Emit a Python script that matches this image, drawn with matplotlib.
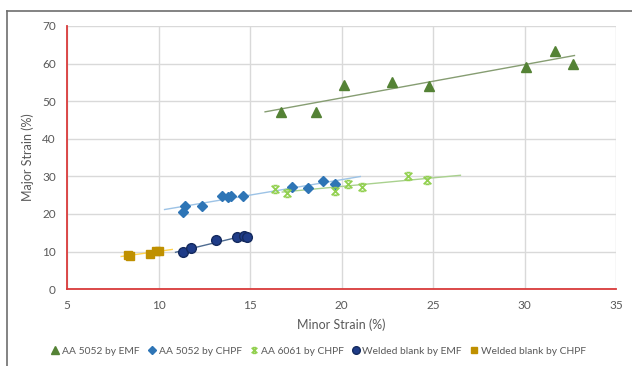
import numpy as np
import matplotlib
matplotlib.use("Agg")
import matplotlib.pyplot as plt
from matplotlib.path import Path
from matplotlib.lines import Line2D

plt.rcParams['font.family'] = ['Lato', 'DejaVu Sans']

# minor / major strain readings (%)
emf_5052_x = [16.67, 18.58, 20.13, 22.77, 24.77, 30.06, 31.68, 32.62]
emf_5052_y = [47.0, 47.0, 54.2, 55.2, 54.1, 59.2, 63.3, 60.0]

chpf_5052_x = [11.33, 11.45, 12.35, 13.44, 13.82, 13.98, 14.64, 17.27, 18.18, 18.98, 19.62]
chpf_5052_y = [20.6, 22.2, 22.2, 24.9, 24.6, 24.9, 24.9, 27.2, 26.9, 28.7, 28.1]

chpf_6061_x = [16.36, 17.04, 19.65, 20.35, 21.11, 23.64, 24.69]
chpf_6061_y = [26.7, 25.5, 26.0, 27.9, 27.1, 30.2, 29.1]

weld_emf_x = [11.36, 11.80, 13.13, 14.27, 14.67, 14.84]
weld_emf_y = [9.8, 11.0, 13.1, 13.9, 14.2, 13.9]

weld_chpf_x = [8.31, 8.45, 9.53, 9.84, 10.03]
weld_chpf_y = [9.2, 8.8, 9.4, 10.1, 10.2]

labels = ["AA 5052 by EMF", "AA 5052 by CHPF", "AA 6061 by CHPF",
          "Welded blank by EMF", "Welded blank by CHPF"]

# excel-like trendline forecast (backward, forward)
forecast = [(0.85, 0.1), (1.0, 1.4), (-0.4, 1.8), (0.43, 0.2), (0.35, 0.72)]

# asterisk-ish marker like excel's star
star = Path([(-1, -1), (1, 1), (-1, 1), (1, -1),
             (-0.55, 1), (0.55, 1), (-0.55, -1), (0.55, -1)],
            [Path.MOVETO, Path.LINETO] * 4)

styles = [
    dict(marker='^', color='#548235', mec='#548235', ms=7, trend='#869d72'),
    dict(marker='D', color='#2e75b6', mec='#2e75b6', ms=5.3, trend='#9dc3e6'),
    dict(marker=star, color='#92d050', mec='#92d050', ms=5.5, trend='#a9d18e'),
    dict(marker='o', color='#1f3c88', mec='#142a5e', ms=7, trend='#4f6c91'),
    dict(marker='s', color='#bf9000', mec='#bf9000', ms=6, trend='#ffd34e'),
]

series = [(emf_5052_x, emf_5052_y), (chpf_5052_x, chpf_5052_y),
          (chpf_6061_x, chpf_6061_y), (weld_emf_x, weld_emf_y),
          (weld_chpf_x, weld_chpf_y)]

fig = plt.figure(figsize=(6.32, 3.66), dpi=100)
ax = fig.add_axes([0.106, 0.21, 0.869, 0.719])

txt = '#595959'
handles = []
for (xs, ys), st, (back, fwd), lab in zip(series, styles, forecast, labels):
    xs = np.array(xs)
    ys = np.array(ys)
    k, b = np.polyfit(xs, ys, 1)
    tx = np.array([xs.min() - back, xs.max() + fwd])
    ax.plot(tx, k * tx + b, color=st['trend'], lw=1.0, zorder=2)
    mew = 1.3 if st['marker'] is star else 1.0
    ax.plot(xs, ys, ls='none', marker=st['marker'], ms=st['ms'],
            mfc=st['color'], mec=st['mec'], mew=mew, zorder=3)
    handles.append(Line2D([], [], ls='none', marker=st['marker'],
                          ms=st['ms'] - 1.5, mfc=st['color'], mec=st['mec'],
                          mew=mew, label=lab))

ax.set_xlim(5, 35)
ax.set_ylim(0, 70)
ax.set_xticks(np.arange(5, 36, 5))
ax.set_yticks(np.arange(0, 71, 10))
ax.grid(True, color='#d9d9d9', lw=1.0)
ax.set_axisbelow(True)
for s in ['top', 'right']:
    ax.spines[s].set_visible(False)
for s in ['left', 'bottom']:
    ax.spines[s].set_color('#d93a3a')
    ax.spines[s].set_linewidth(1.3)
ax.tick_params(length=0, labelsize=8.5, colors=txt)
ax.tick_params(axis='x', pad=8)
ax.tick_params(axis='y', pad=8)
ax.set_xlabel('Minor Strain (%)', fontsize=9, color=txt, labelpad=5)
ax.set_ylabel('Major Strain (%)', fontsize=9, color=txt, labelpad=6)

fig.legend(handles=handles, loc='center', bbox_to_anchor=(0.505, 0.04),
           ncol=5, frameon=False, fontsize=7.4, labelcolor=txt,
           handlelength=0.6, handletextpad=0.35, columnspacing=0.9)

# chart border
fig.add_artist(Line2D([0.011, 1.0], [0.97, 0.97], color='#6e6e6e', lw=1.2,
                      transform=fig.transFigure))
fig.add_artist(Line2D([0.011, 0.011], [0.0, 0.97], color='#6e6e6e', lw=1.2,
                      transform=fig.transFigure))

fig.savefig('out.png', dpi=100)
